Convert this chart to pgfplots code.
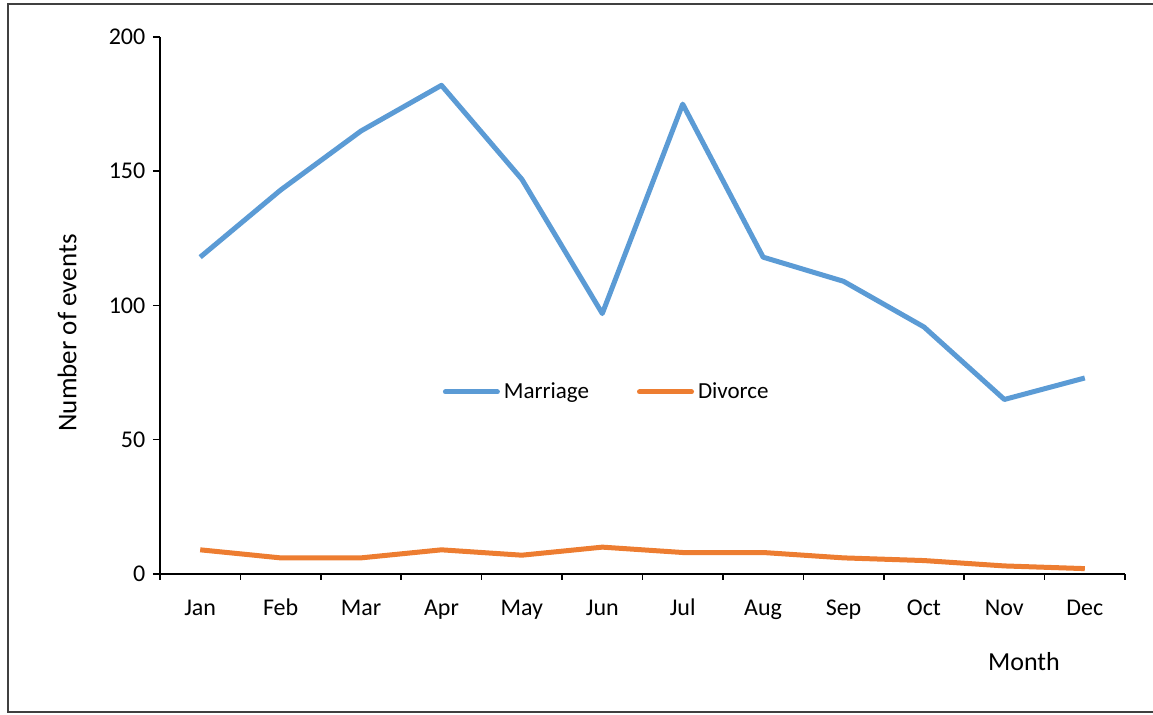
\documentclass[border=0pt]{standalone}
\usepackage{pgfplots}
\pgfplotsset{compat=1.18}
\usepackage{fontspec}
\setmainfont{Carlito}
\definecolor{mblue}{HTML}{5B9BD5}
\definecolor{morange}{HTML}{ED7D31}
\definecolor{frame}{HTML}{404040}
\begin{document}
\fontsize{11}{13}\selectfont
\begin{tikzpicture}
\useasboundingbox (-80pt,-70.5pt) rectangle (496.5pt,287pt);
\draw[frame, line width=1pt] (496.5pt,285pt) -- (-76pt,285pt) -- (-76pt,-69pt) -- (496.5pt,-69pt);
\begin{axis}[
  at={(0pt,0pt)}, anchor=south west,
  scale only axis,
  width=482.5pt, height=268.5pt,
  xmin=-0.5, xmax=11.5, ymin=0, ymax=200,
  axis lines=left,
  axis line style={-, black, line width=0.75pt},
  xtick={0,...,11},
  xticklabels={Jan,Feb,Mar,Apr,May,Jun,Jul,Aug,Sep,Oct,Nov,Dec},
  major x tick style={draw=none},
  minor xtick={-0.5,0.5,...,11.5},
  minor tick length=3pt,
  ytick={0,50,100,150,200},
  major tick length=3.5pt,
  tick align=outside,
  tick style={black, line width=0.75pt},
  xticklabel style={anchor=base, yshift=-17.5pt, font=\fontsize{12}{14}\selectfont},
  yticklabel style={font=\fontsize{12}{14}\selectfont},
  /pgf/number format/assume math mode=true,
  legend style={at={(0.464,0.339)}, anchor=center, draw=none, fill=none,
    legend columns=-1, font=\fontsize{11.5}{13}\selectfont,
    /tikz/every even column/.append style={column sep=22pt}},
  legend image code/.code={\draw[#1, line cap=round] (0pt,0pt) -- (26pt,0pt);},
  clip=false,
]
\addplot[mblue, line width=2.5pt, line join=round] coordinates {
  (0,118) (1,143) (2,165) (3,182) (4,147) (5,97) (6,175) (7,118) (8,109) (9,92) (10,65) (11,73)};
\addlegendentry{Marriage}
\addplot[morange, line width=2.5pt, line join=round] coordinates {
  (0,9) (1,6) (2,6) (3,9) (4,7) (5,10) (6,8) (7,8) (8,6) (9,5) (10,3) (11,2)};
\addlegendentry{Divorce}
\end{axis}
\node[rotate=90, font=\fontsize{13.5}{15}\selectfont] at (-46.5pt,120.5pt) {Number of events};
\node[font=\fontsize{13}{15}\selectfont] at (432pt,-44pt) {Month};
\end{tikzpicture}
\end{document}
